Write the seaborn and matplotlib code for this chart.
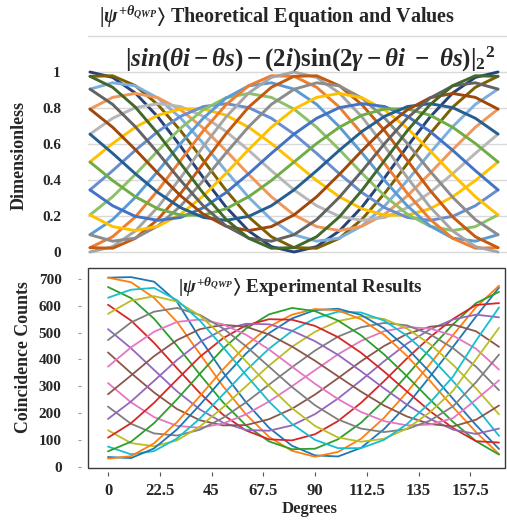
import matplotlib
matplotlib.use("Agg")
import matplotlib.pyplot as plt
import seaborn as sns
import pandas as pd
from matplotlib.patches import Rectangle

# ---------------- theoretical curves (dimensionless), 0..180 deg ----------------
theory_deg = [0, 10, 20, 30, 40, 50, 60, 70, 80, 90, 100, 110, 120, 130, 140, 150, 160, 170, 180]

th_00 = [1.000, .970, .883, .750, .587, .413, .250, .117, .030, .000, .030, .117, .250, .413, .587, .750, .883, .970, 1.000]
th_01 = [.976, .979, .924, .818, .674, .509, .343, .195, .085, .024, .021, .076, .182, .326, .491, .657, .805, .915, .976]
th_02 = [.905, .940, .923, .855, .744, .603, .450, .304, .180, .096, .060, .077, .145, .256, .397, .550, .696, .820, .905]
th_03 = [.794, .859, .881, .857, .790, .688, .563, .431, .307, .206, .141, .119, .143, .210, .312, .437, .569, .693, .794]
th_04 = [.655, .743, .802, .824, .808, .754, .670, .565, .452, .345, .257, .198, .176, .192, .246, .330, .435, .548, .655]
th_05 = [.500, .603, .693, .760, .795, .795, .760, .693, .603, .500, .397, .307, .240, .205, .205, .240, .307, .397, .500]
th_06 = [.345, .452, .565, .670, .754, .808, .824, .802, .743, .655, .548, .435, .330, .246, .192, .176, .198, .257, .345]
th_07 = [.206, .307, .431, .563, .688, .790, .857, .881, .859, .794, .693, .569, .437, .312, .210, .143, .119, .141, .206]
th_08 = [.096, .180, .304, .450, .603, .744, .855, .923, .940, .905, .820, .696, .550, .397, .256, .145, .077, .060, .096]
th_09 = [.024, .085, .195, .343, .509, .674, .818, .924, .979, .976, .915, .805, .657, .491, .326, .182, .076, .021, .024]
th_10 = [.000, .030, .117, .250, .413, .587, .750, .883, .970, 1.000, .970, .883, .750, .587, .413, .250, .117, .030, .000]
th_11 = [.024, .021, .076, .182, .326, .491, .657, .805, .915, .976, .979, .924, .818, .674, .509, .343, .195, .085, .024]
th_12 = [.096, .060, .077, .145, .256, .397, .550, .696, .820, .904, .940, .923, .855, .744, .603, .450, .304, .180, .096]
th_13 = [.206, .141, .119, .143, .210, .312, .437, .569, .693, .794, .859, .881, .857, .790, .688, .563, .431, .307, .206]
th_14 = [.345, .257, .198, .176, .192, .246, .330, .435, .548, .655, .743, .802, .824, .808, .754, .670, .565, .452, .345]
th_15 = [.500, .397, .307, .240, .205, .205, .240, .307, .397, .500, .603, .693, .760, .795, .795, .760, .693, .603, .500]
th_16 = [.655, .548, .435, .330, .246, .192, .176, .198, .257, .345, .452, .565, .670, .754, .808, .824, .802, .743, .655]
th_17 = [.794, .693, .569, .437, .312, .210, .143, .119, .141, .206, .307, .431, .563, .688, .790, .857, .881, .859, .794]
th_18 = [.905, .820, .696, .550, .397, .256, .145, .077, .060, .096, .180, .304, .450, .603, .744, .855, .923, .940, .905]
th_19 = [.976, .915, .805, .657, .491, .326, .182, .076, .021, .024, .085, .195, .343, .509, .674, .818, .924, .979, .976]

theory_colors = ["#264478", "#7F6000", "#7CAFDD", "#F1975A", "#B7B7B7",
                 "#FFC000", "#698ED0", "#8CC168", "#5B9BD5", "#ED7D31",
                 "#A5A5A5", "#C55A11", "#8C8C8C", "#FFC000", "#4472C4",
                 "#70AD47", "#255E91", "#9E480E", "#636363", "#43682B"]

# ---------------- measured coincidence counts, 0..170 deg ----------------
exp_deg = [0, 10, 20, 30, 40, 50, 60, 70, 80, 90, 100, 110, 120, 130, 140, 150, 160, 170]

ex_00 = [705, 707, 690, 615, 478, 352, 240, 145, 78, 42, 38, 70, 140, 230, 336, 447, 560, 668]
ex_01 = [705, 688, 630, 540, 420, 300, 195, 111, 59, 37, 55, 104, 182, 278, 383, 491, 595, 675]
ex_02 = [670, 629, 552, 451, 343, 240, 154, 94, 65, 67, 102, 164, 246, 341, 439, 531, 610, 652]
ex_03 = [604, 545, 462, 367, 274, 194, 135, 102, 98, 121, 170, 238, 319, 404, 483, 551, 603, 610]
ex_04 = [513, 442, 361, 281, 213, 164, 137, 134, 154, 196, 254, 322, 393, 459, 512, 549, 567, 557]
ex_05 = [426, 349, 277, 215, 173, 154, 155, 177, 216, 269, 330, 393, 450, 495, 522, 530, 505, 447]
ex_06 = [312, 240, 185, 152, 145, 161, 195, 243, 300, 360, 419, 469, 505, 521, 515, 489, 440, 362]
ex_07 = [224, 160, 124, 116, 138, 182, 240, 306, 371, 433, 485, 520, 536, 527, 494, 442, 373, 285]
ex_08 = [136, 88, 76, 98, 150, 221, 300, 377, 447, 503, 543, 560, 551, 515, 457, 380, 292, 195]
ex_09 = [75, 46, 58, 105, 180, 269, 359, 440, 506, 553, 578, 575, 545, 488, 411, 319, 221, 115]
ex_10 = [36, 32, 68, 139, 231, 330, 422, 498, 553, 584, 589, 566, 516, 442, 352, 253, 155, 66]
ex_11 = [30, 39, 87, 166, 264, 363, 452, 522, 567, 588, 583, 550, 492, 413, 320, 222, 129, 47]
ex_12 = [57, 93, 162, 251, 347, 440, 515, 568, 592, 580, 545, 490, 419, 337, 250, 167, 95, 45]
ex_13 = [108, 162, 238, 325, 410, 479, 527, 550, 548, 525, 483, 425, 355, 280, 207, 144, 95, 90]
ex_14 = [178, 243, 320, 398, 465, 511, 533, 531, 507, 468, 417, 356, 292, 231, 178, 138, 122, 142]
ex_15 = [270, 340, 412, 472, 513, 529, 522, 493, 448, 395, 337, 280, 228, 187, 159, 150, 175, 228]
ex_16 = [373, 445, 503, 540, 549, 531, 492, 437, 373, 309, 252, 204, 170, 154, 157, 181, 250, 322]
ex_17 = [472, 538, 578, 592, 566, 516, 449, 373, 297, 229, 176, 142, 129, 140, 172, 225, 315, 418]
ex_18 = [570, 619, 636, 616, 563, 484, 393, 301, 218, 152, 109, 93, 104, 142, 203, 283, 400, 518]
ex_19 = [630, 660, 667, 621, 544, 446, 342, 243, 159, 100, 69, 69, 100, 159, 239, 336, 470, 594]

theory_series = [th_00, th_01, th_02, th_03, th_04, th_05, th_06, th_07, th_08, th_09,
                 th_10, th_11, th_12, th_13, th_14, th_15, th_16, th_17, th_18, th_19]
exp_series = [ex_00, ex_01, ex_02, ex_03, ex_04, ex_05, ex_06, ex_07, ex_08, ex_09,
              ex_10, ex_11, ex_12, ex_13, ex_14, ex_15, ex_16, ex_17, ex_18, ex_19]


def long_table(xs, series, name):
    rows = []
    for i, ys in enumerate(series):
        for x, y in zip(xs, ys):
            rows.append({"deg": x, name: y, "curve": i})
    return pd.DataFrame(rows)


df_theory = long_table(theory_deg, theory_series, "value")
df_exp = long_table(exp_deg, exp_series, "counts")

# ---------------- styling ----------------
W, H, DPI = 507, 523, 100
sns.set_theme(style="white")
plt.rcParams["font.family"] = ["Liberation Serif", "DejaVu Serif"]
plt.rcParams["font.weight"] = "bold"
plt.rcParams["mathtext.fontset"] = "custom"
plt.rcParams["mathtext.rm"] = "Liberation Serif:bold"
plt.rcParams["mathtext.it"] = "Liberation Serif:italic:bold"
plt.rcParams["mathtext.bf"] = "Liberation Serif:bold"
plt.rcParams["mathtext.fallback"] = "stix"

fig = plt.figure(figsize=(W / DPI, H / DPI), dpi=DPI)


def px_rect(left, top, right, bottom):
    return [left / W, 1 - bottom / H, (right - left) / W, (bottom - top) / H]


def px_text(x, y, s, **kw):
    fig.text(x / W, 1 - y / H, s, ha="center", va="center", **kw)


# ---- upper panel: theory ----
ax1 = fig.add_axes(px_rect(88, 34.2, 507, 255.6))
sns.lineplot(data=df_theory, x="deg", y="value", hue="curve",
             palette=theory_colors, legend=False, estimator=None, sort=False,
             linewidth=2.1, ax=ax1)
ax1.set_xlim(-0.88, 183.97)
ax1.set_ylim(-0.02, 1.21)
ax1.set_yticks([0, 0.2, 0.4, 0.6, 0.8, 1.0, 1.2])
ax1.set_yticklabels(["0", "0.2", "0.4", "0.6", "0.8", "1", ""])
ax1.set_xticks([])
ax1.grid(axis="y", color="#d9d9d9", linewidth=1.0)
ax1.set_axisbelow(True)
for sp in ax1.spines.values():
    sp.set_visible(False)
ax1.tick_params(axis="y", length=0, pad=19.5, labelsize=11)
for lbl in ax1.get_yticklabels():
    lbl.set_fontweight("bold")
ax1.set_xlabel("")
ax1.set_ylabel("")

# ---- lower panel: experiment ----
ax2 = fig.add_axes(px_rect(88, 268, 505, 468))
sns.lineplot(data=df_exp, x="deg", y="counts", hue="curve",
             palette=sns.color_palette("tab10", 10) * 2, legend=False,
             estimator=None, sort=False, linewidth=1.3, ax=ax2)
ax2.set_xlim(-8.7, 172.6)
ax2.set_ylim(-5, 741)
ax2.set_xticks([0, 22.5, 45, 67.5, 90, 112.5, 135, 157.5])
ax2.set_xticklabels(["0", "22.5", "45", "67.5", "90", "112.5", "135", "157.5"])
ax2.set_yticks(range(0, 701, 100))
for sp in ax2.spines.values():
    sp.set_visible(False)
ax2.spines["left"].set_position(("outward", 5))
ax2.spines["bottom"].set_position(("outward", 3))
ax2.add_patch(Rectangle((0, 0), 1, 1, transform=ax2.transAxes, fill=False,
                        edgecolor="#3a3a3a", linewidth=1.0, clip_on=False))
ax2.tick_params(axis="y", direction="out", length=2, width=0.8, color="#999999",
                pad=12, labelsize=11, left=True)
ax2.tick_params(axis="x", direction="out", length=3, width=0.8, color="#555555",
                pad=4.5, labelsize=12, bottom=True)
for lbl in ax2.get_xticklabels() + ax2.get_yticklabels():
    lbl.set_fontweight("bold")
ax2.set_xlabel("")
ax2.set_ylabel("")

# ---- text ----
px_text(277, 17, r"$|\psi^{+\theta_{QWP}}\rangle$ Theoretical Equation and Values",
        fontsize=14.5, fontweight="bold")
px_text(310, 59,
        r"$|sin(\theta i-\theta s)-(2i)\mathrm{sin}(2\gamma-\theta i\ -\ \theta s)|_{2}{}^{2}$",
        fontsize=18)
px_text(300, 287, r"$|\psi^{+\theta_{QWP}}\rangle$ Experimental Results",
        fontsize=13.8, fontweight="bold")
px_text(19, 155, "Dimensionless", rotation=90, fontsize=13, fontweight="bold")
px_text(24, 357, "Coincidence Counts", rotation=90, fontsize=12.8, fontweight="bold")
px_text(310, 509, "Degrees", fontsize=12, fontweight="bold")

fig.savefig("out.png", dpi=DPI)
